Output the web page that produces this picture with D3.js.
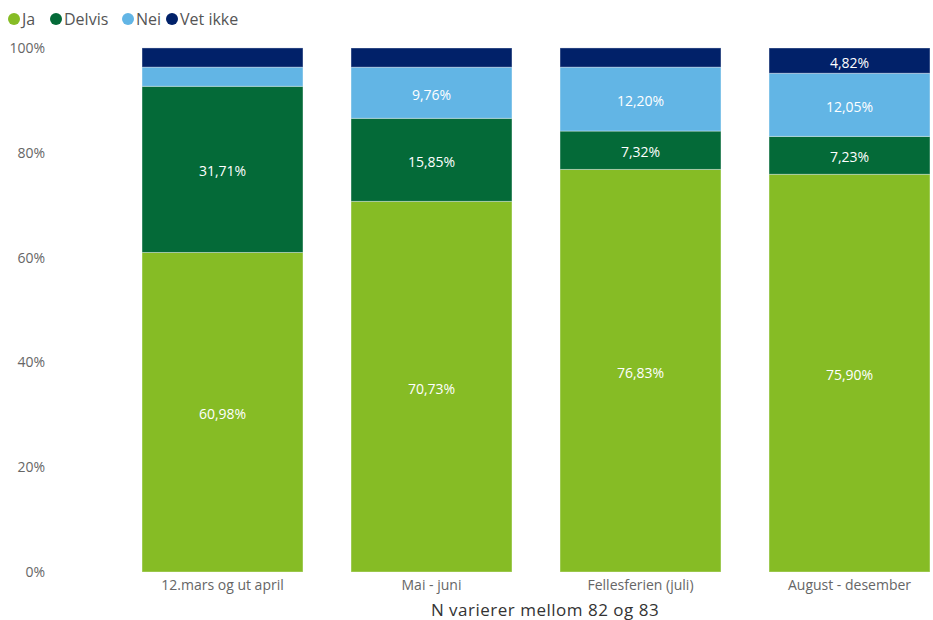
<!DOCTYPE html>
<html>
<head>
<meta charset="utf-8">
<script src="https://cdn.jsdelivr.net/npm/d3@7"></script>
<style>
  body { margin: 0; background: #fff; }
  svg { display: block; font-family: "Segoe UI", "Open Sans", "Noto Sans", sans-serif; }
</style>
</head>
<body>
<svg id="chart" width="933" height="620"></svg>
<script>
// Periods and answer shares (percent of respondents)
const categories = ["12.mars og ut april", "Mai - juni", "Fellesferien (juli)", "August - desember"];
const seriesNames = ["Ja", "Delvis", "Nei", "Vet ikke"];
const ja      = [60.98, 70.73, 76.83, 75.90];
const delvis  = [31.71, 15.85, 7.32, 7.23];
const nei     = [3.66, 9.76, 12.20, 12.05];
const vetIkke = [3.66, 3.66, 3.66, 4.82];
const yTicks = [0, 20, 40, 60, 80, 100];
const axisTitle = "N varierer mellom 82 og 83";

const colors = ["#86BC25", "#046A38", "#62B5E5", "#012169"];

const rows = categories.map((c, i) => ({
  cat: c, "Ja": ja[i], "Delvis": delvis[i], "Nei": nei[i], "Vet ikke": vetIkke[i]
}));

const svg = d3.select("#chart");
const margin = { top: 48, bottom: 48 };
const H = 620;

const x = d3.scaleBand().domain(categories).range([118, 954])
  .paddingInner(0.23).paddingOuter(0.115);
const y = d3.scaleLinear().domain([0, 100]).range([H - margin.bottom, margin.top]);
const color = d3.scaleOrdinal().domain(seriesNames).range(colors);

const stack = d3.stack().keys(seriesNames);
const layers = stack(rows);

// Y axis labels
const yAxis = d3.axisLeft(y).tickValues(yTicks).tickFormat(d => d + "%").tickSize(0).tickPadding(0);
const yg = svg.append("g").attr("transform", "translate(45,0)").call(yAxis);
yg.select(".domain").remove();
yg.selectAll("text").attr("fill", "#666").style("font-size", "14px")
  .style("font-family", "\"Segoe UI\", \"Open Sans\", sans-serif");

// Stacked bars
const g = svg.append("g");
layers.forEach(layer => {
  const key = layer.key;
  g.selectAll(null).data(layer).join("rect")
    .attr("x", d => x(d.data.cat))
    .attr("width", x.bandwidth())
    .attr("y", d => y(d[1]))
    .attr("height", d => y(d[0]) - y(d[1]))
    .attr("fill", color(key))
    .attr("stroke", "#ffffff")
    .attr("stroke-opacity", 0.35)
    .attr("stroke-width", 1);

  // Value labels for segments big enough to hold them
  g.selectAll(null).data(layer.filter(d => (d[1] - d[0]) > 4)).join("text")
    .attr("x", d => x(d.data.cat) + x.bandwidth() / 2)
    .attr("y", d => (y(d[0]) + y(d[1])) / 2 + 2)
    .attr("dy", "0.35em")
    .attr("text-anchor", "middle")
    .attr("fill", "#fff")
    .style("font-size", "14px")
    .style("font-weight", 500)
    .text(d => (d[1] - d[0]).toFixed(2).replace(".", ",") + "%");
});

// X axis labels
const xAxis = d3.axisBottom(x).tickSize(0).tickPadding(0);
const xg = svg.append("g").attr("transform", `translate(0,${H - margin.bottom + 8})`).call(xAxis);
xg.select(".domain").remove();
xg.selectAll("text").attr("fill", "#666").style("font-size", "14px")
  .style("font-family", "\"Segoe UI\", \"Open Sans\", sans-serif");

// Axis title
svg.append("text")
  .attr("x", 545).attr("y", 616)
  .attr("text-anchor", "middle")
  .attr("fill", "#333")
  .style("font-size", "17px")
  .style("letter-spacing", "0.5px")
  .text(axisTitle);

// Legend
const legendX = [14, 56, 128, 172];
const legend = svg.append("g");
seriesNames.forEach((name, i) => {
  legend.append("circle").attr("cx", legendX[i]).attr("cy", 19).attr("r", 6).attr("fill", colors[i]);
  legend.append("text").attr("x", legendX[i] + 8).attr("y", 19).attr("dy", "0.35em")
    .attr("fill", "#555").style("font-size", "16px").text(name);
});
</script>
</body>
</html>
